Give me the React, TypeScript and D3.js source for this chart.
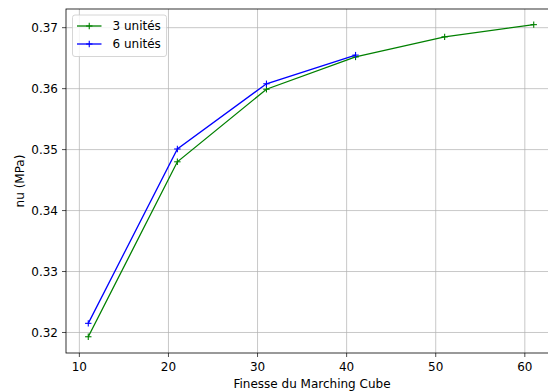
import React from "react";
import * as d3 from "d3";

const finesse3 = [11, 21, 31, 41, 51, 61];
const nu3 = [0.3193, 0.348, 0.3599, 0.3652, 0.3685, 0.3705];
const finesse6 = [11, 21, 31, 41];
const nu6 = [0.3215, 0.3501, 0.3608, 0.3655];
const xTicks = [10, 20, 30, 40, 50, 60];
const yTicks = [0.32, 0.33, 0.34, 0.35, 0.36, 0.37];
const seriesNames = ["3 unités", "6 unités"];
const seriesColors = ["#008000", "#0000ff"];

const W = 548, H = 391;
const left = 66, top = 9, bottom = 353, right = 556;
const font = "DejaVu Sans, sans-serif";

export default function App() {
  const x = d3.scaleLinear().domain([8.5, 63.5]).range([left, right]);
  const y = d3.scaleLinear().domain([0.316635, 0.373065]).range([bottom, top]);
  const series = [
    { name: seriesNames[0], color: seriesColors[0], xs: finesse3, ys: nu3 },
    { name: seriesNames[1], color: seriesColors[1], xs: finesse6, ys: nu6 },
  ];
  const line = d3.line<[number, number]>().x(d => x(d[0])).y(d => y(d[1]));
  const m = 3.2;
  return (
    <svg width={W} height={H} style={{ position: "absolute", left: 0, top: 0 }} fontFamily={font}>
      <rect x={0} y={0} width={W} height={H} fill="#fff" />
      {xTicks.map(t => (
        <line key={"gx" + t} x1={x(t)} x2={x(t)} y1={top} y2={bottom} stroke="#b0b0b0" strokeWidth={0.7} />
      ))}
      {yTicks.map(t => (
        <line key={"gy" + t} x1={left} x2={right} y1={y(t)} y2={y(t)} stroke="#b0b0b0" strokeWidth={0.7} />
      ))}
      {series.map(s => {
        const pts = s.xs.map((v, i) => [v, s.ys[i]] as [number, number]);
        return (
          <g key={s.name}>
            <path d={line(pts) || ""} fill="none" stroke={s.color} strokeWidth={1.3} />
            {pts.map((p, i) => (
              <g key={i} stroke={s.color} strokeWidth={1.1}>
                <line x1={x(p[0]) - m} x2={x(p[0]) + m} y1={y(p[1])} y2={y(p[1])} />
                <line x1={x(p[0])} x2={x(p[0])} y1={y(p[1]) - m} y2={y(p[1]) + m} />
              </g>
            ))}
          </g>
        );
      })}
      <rect x={left} y={top} width={right - left} height={bottom - top} fill="none" stroke="#000" strokeWidth={0.8} />
      {xTicks.map(t => (
        <g key={"tx" + t}>
          <line x1={x(t)} x2={x(t)} y1={bottom} y2={bottom + 4} stroke="#000" strokeWidth={0.7} />
          <text x={x(t)} y={bottom + 18} fontSize={12} textAnchor="middle" fill="#000">{t}</text>
        </g>
      ))}
      {yTicks.map(t => (
        <g key={"ty" + t}>
          <line x1={left - 4} x2={left} y1={y(t)} y2={y(t)} stroke="#000" strokeWidth={0.7} />
          <text x={left - 8} y={y(t)} dy="0.35em" fontSize={12} textAnchor="end" fill="#000">{t.toFixed(2)}</text>
        </g>
      ))}
      <text x={(left + 548 + 10) / 2} y={388} fontSize={12} textAnchor="middle" fill="#000">Finesse du Marching Cube</text>
      <text transform={`translate(24, ${(top + bottom) / 2}) rotate(-90)`} fontSize={12} textAnchor="middle" fill="#000">nu (MPa)</text>
      <g>
        <rect x={72.5} y={15} width={94} height={41.5} rx={2.5} fill="#fff" fillOpacity={0.8} stroke="#cccccc" strokeWidth={0.8} />
        {series.map((s, i) => {
          const ly = 26 + i * 18;
          return (
            <g key={"lg" + s.name}>
              <line x1={77} x2={101.5} y1={ly} y2={ly} stroke={s.color} strokeWidth={1.3} />
              <line x1={89.25 - m} x2={89.25 + m} y1={ly} y2={ly} stroke={s.color} strokeWidth={1.1} />
              <line x1={89.25} x2={89.25} y1={ly - m} y2={ly + m} stroke={s.color} strokeWidth={1.1} />
              <text x={112.5} y={ly} dy="0.35em" fontSize={12} fill="#000">{s.name}</text>
            </g>
          );
        })}
      </g>
    </svg>
  );
}
